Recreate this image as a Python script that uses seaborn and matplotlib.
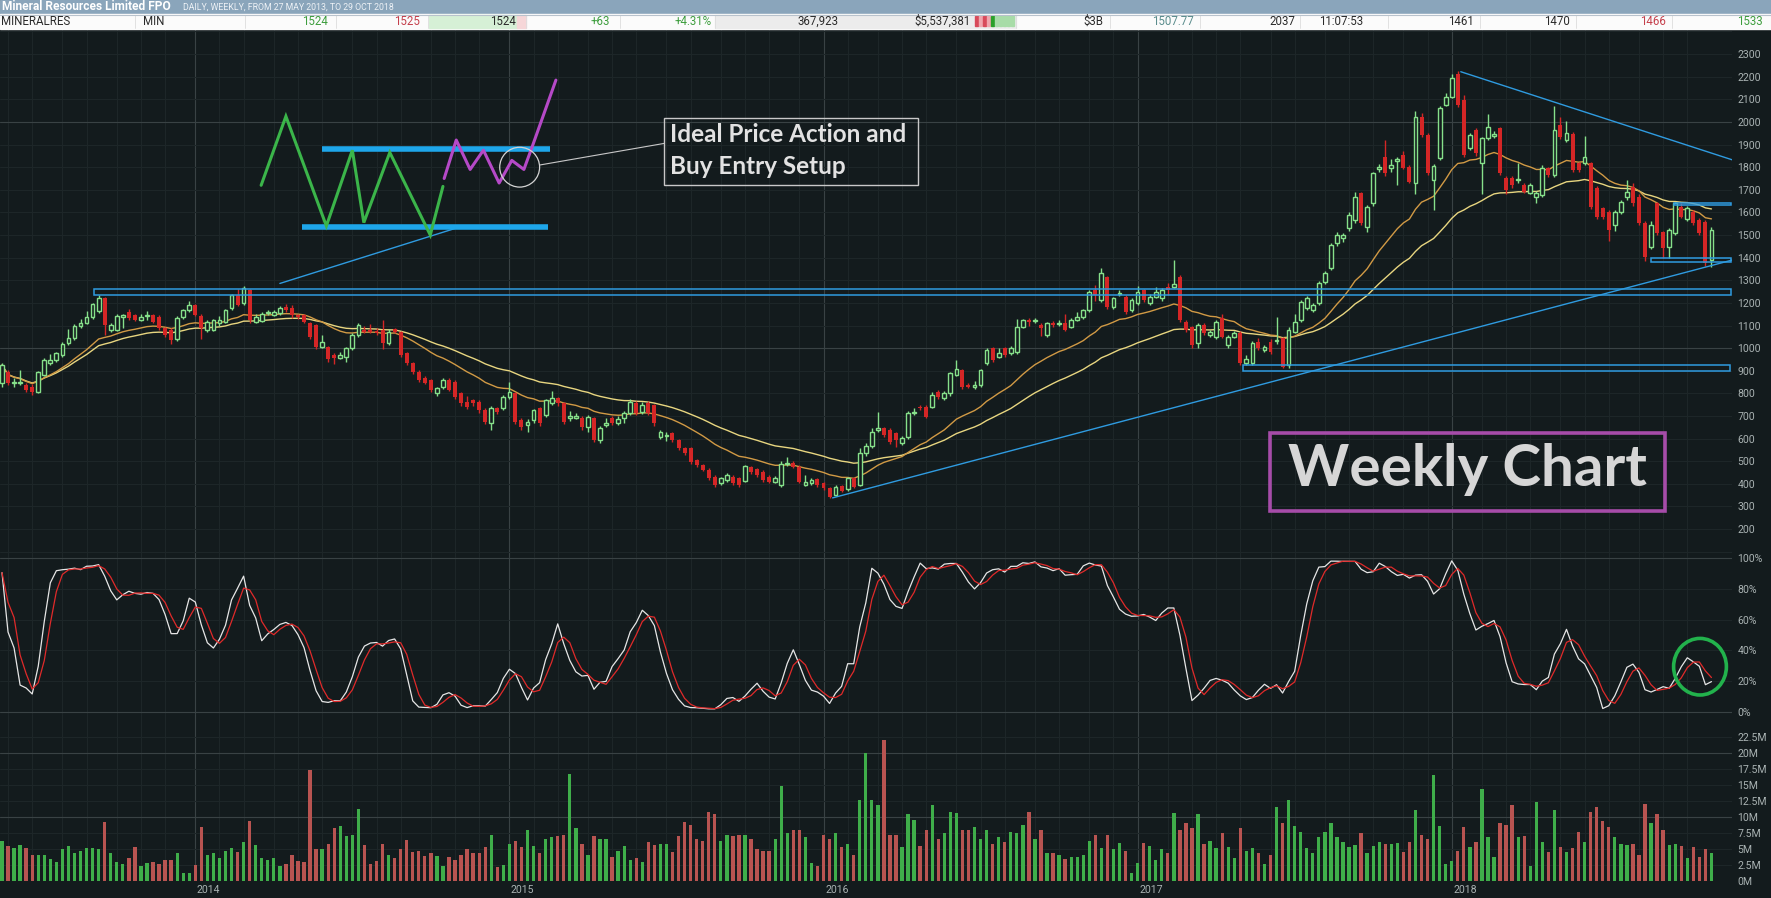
import numpy as np
import pandas as pd
import matplotlib
matplotlib.use("Agg")
import matplotlib.pyplot as plt
import matplotlib.transforms as mtrans
from matplotlib.patches import Rectangle, Ellipse
import seaborn as sns

# ---------------------------------------------------------------- data
start_date = "2013-05-27"   # weekly bars, 27 May 2013 .. 29 Oct 2018

opens = [
    845, 896, 845, 845, 837, 830, 808, 881, 933, 947,
    970, 1021, 1043, 1098, 1113, 1139, 1164, 1220, 1080, 1080,
    1139, 1161, 1146, 1124, 1140, 1146, 1139, 1087, 1080, 1040,
    1136, 1168, 1191, 1142, 1080, 1080, 1110, 1117, 1176, 1235,
    1198, 1257, 1117, 1121, 1155, 1146, 1154, 1183, 1176, 1146,
    1146, 1110, 1102, 1006, 1006, 970, 955, 962, 999, 1058,
    1080, 1080, 1077, 1080, 1021, 1083, 1073, 977, 933, 896,
    866, 859, 800, 830, 859, 852, 800, 763, 770, 763,
    726, 667, 734, 734, 782, 800, 682, 660, 682, 734,
    704, 756, 778, 756, 690, 692, 690, 653, 690, 594,
    660, 690, 667, 690, 712, 756, 719, 756, 748, 608,
    612, 623, 594, 557, 557, 505, 483, 461, 431, 402,
    417, 431, 424, 414, 476, 464, 454, 431, 409, 395,
    487, 493, 476, 395, 402, 420, 405, 380, 350, 390,
    376, 424, 395, 535, 567, 640, 645, 638, 623, 579,
    608, 712, 741, 741, 741, 807, 778, 800, 881, 903,
    837, 830, 837, 933, 999, 962, 999, 977, 984, 1095,
    1124, 1119, 1102, 1058, 1110, 1108, 1110, 1095, 1124, 1139,
    1168, 1257, 1213, 1316, 1183, 1238, 1227, 1168, 1198, 1257,
    1198, 1227, 1220, 1272, 1272, 1316, 1117, 1095, 1021, 1102,
    1058, 1051, 1132, 1014, 1051, 1068, 933, 933, 1029, 992,
    1029, 1030, 1043, 925, 1073, 1124, 1176, 1168, 1198, 1294,
    1353, 1463, 1485, 1530, 1567, 1684, 1537, 1640, 1790, 1847,
    1795, 1829, 1854, 1802, 1729, 2023, 1942, 1743, 1839, 2075,
    2112, 2212, 2097, 1883, 1964, 1817, 1928, 1938, 1972, 1751,
    1751, 1744, 1721, 1684, 1670, 1677, 1795, 1765, 1987, 1920,
    1947, 1817, 1817, 1817, 1707, 1618, 1603, 1544, 1603, 1670,
    1714, 1670, 1552, 1449, 1640, 1515, 1449, 1508, 1626, 1570,
    1603, 1566, 1559, 1390,
]
closes = [
    925, 844, 852, 849, 815, 808, 896, 947, 947, 977,
    1018, 1043, 1098, 1110, 1136, 1193, 1220, 1102, 1102, 1142,
    1146, 1132, 1124, 1139, 1146, 1117, 1087, 1058, 1036, 1135,
    1168, 1191, 1146, 1087, 1117, 1124, 1124, 1168, 1235, 1191,
    1264, 1124, 1139, 1151, 1158, 1161, 1176, 1168, 1146, 1136,
    1117, 1051, 1006, 1028, 950, 955, 970, 999, 1058, 1102,
    1073, 1073, 1065, 1021, 1073, 1073, 970, 933, 896, 859,
    847, 815, 822, 859, 815, 785, 756, 741, 756, 726,
    675, 734, 719, 785, 807, 675, 653, 675, 726, 667,
    771, 778, 756, 675, 700, 700, 653, 697, 594, 645,
    667, 667, 687, 712, 763, 712, 748, 712, 667, 630,
    616, 594, 557, 535, 498, 483, 461, 424, 395, 424,
    439, 402, 395, 479, 454, 439, 417, 409, 424, 487,
    493, 476, 409, 409, 417, 395, 380, 343, 387, 370,
    424, 387, 538, 567, 630, 645, 616, 586, 594, 601,
    712, 719, 734, 697, 793, 785, 800, 888, 910, 830,
    830, 837, 903, 992, 947, 977, 970, 999, 1095, 1124,
    1117, 1121, 1087, 1110, 1102, 1110, 1080, 1124, 1139, 1168,
    1250, 1235, 1331, 1183, 1220, 1242, 1161, 1213, 1250, 1213,
    1227, 1250, 1257, 1257, 1283, 1124, 1080, 1014, 1102, 1065,
    1073, 1117, 1051, 1051, 1065, 933, 952, 1021, 999, 1006,
    984, 1032, 918, 1080, 1117, 1205, 1220, 1191, 1286, 1331,
    1456, 1500, 1500, 1589, 1670, 1552, 1626, 1773, 1802, 1773,
    1810, 1835, 1795, 1736, 2023, 1942, 1773, 1805, 2060, 2109,
    2193, 2075, 1854, 1942, 1861, 1928, 1979, 1947, 1773, 1699,
    1721, 1746, 1692, 1721, 1684, 1795, 1765, 1964, 1935, 1950,
    1788, 1788, 1847, 1626, 1581, 1581, 1522, 1603, 1648, 1692,
    1640, 1552, 1404, 1544, 1508, 1441, 1522, 1640, 1581, 1618,
    1552, 1508, 1375, 1524,
]
highs = [
    935, 905, 870, 905, 845, 840, 900, 955, 975, 985,
    1025, 1085, 1105, 1130, 1165, 1200, 1235, 1225, 1110, 1150,
    1150, 1175, 1150, 1150, 1165, 1150, 1145, 1095, 1090, 1140,
    1175, 1210, 1195, 1150, 1125, 1130, 1140, 1175, 1240, 1260,
    1275, 1262, 1150, 1160, 1170, 1170, 1185, 1195, 1190, 1150,
    1150, 1115, 1108, 1060, 1010, 980, 985, 1005, 1065, 1110,
    1100, 1105, 1090, 1125, 1085, 1090, 1078, 985, 940, 905,
    875, 865, 830, 870, 870, 860, 805, 790, 775, 770,
    735, 745, 740, 795, 850, 805, 690, 685, 730, 740,
    775, 810, 785, 760, 720, 715, 700, 705, 695, 655,
    690, 700, 700, 720, 775, 765, 760, 765, 752, 640,
    630, 630, 600, 565, 562, 510, 490, 468, 440, 430,
    450, 440, 430, 485, 480, 472, 460, 438, 435, 500,
    520, 500, 482, 440, 425, 425, 410, 385, 395, 395,
    430, 430, 560, 580, 645, 719, 650, 645, 630, 610,
    720, 735, 750, 748, 805, 815, 810, 895, 948, 910,
    845, 855, 910, 1000, 1005, 1000, 1005, 1008, 1130, 1130,
    1135, 1135, 1110, 1115, 1120, 1125, 1150, 1135, 1160, 1175,
    1258, 1280, 1353, 1320, 1228, 1255, 1235, 1220, 1275, 1262,
    1240, 1270, 1265, 1290, 1390, 1325, 1125, 1100, 1110, 1110,
    1080, 1125, 1150, 1060, 1075, 1075, 970, 1030, 1045, 1015,
    1040, 1139, 1050, 1095, 1150, 1215, 1230, 1200, 1295, 1340,
    1465, 1515, 1510, 1600, 1690, 1690, 1635, 1780, 1812, 1920,
    1835, 1845, 1870, 1810, 2050, 2040, 1950, 1815, 2070, 2130,
    2210, 2225, 2120, 1950, 1975, 1935, 2035, 1960, 1978, 1760,
    1760, 1820, 1730, 1730, 1695, 1810, 1800, 2070, 2020, 2005,
    1955, 1825, 1940, 1825, 1715, 1625, 1610, 1610, 1655, 1745,
    1730, 1680, 1560, 1560, 1645, 1520, 1530, 1645, 1640, 1630,
    1610, 1575, 1565, 1535,
]
lows = [
    830, 835, 830, 838, 805, 795, 800, 875, 925, 940,
    960, 1015, 1035, 1090, 1105, 1130, 1155, 1058, 1070, 1075,
    1090, 1125, 1118, 1118, 1125, 1110, 1080, 1050, 1020, 1030,
    1130, 1160, 1140, 1040, 1070, 1075, 1100, 1110, 1170, 1185,
    1190, 1110, 1110, 1115, 1145, 1140, 1148, 1160, 1135, 1128,
    1110, 1040, 995, 1000, 940, 930, 950, 940, 990, 1050,
    1065, 1065, 1060, 995, 1015, 1065, 960, 925, 885, 850,
    840, 805, 790, 820, 810, 775, 745, 730, 745, 715,
    665, 640, 710, 725, 775, 665, 640, 630, 670, 655,
    695, 750, 745, 665, 680, 685, 640, 630, 585, 580,
    650, 660, 660, 670, 705, 705, 710, 705, 655, 600,
    590, 585, 550, 528, 490, 475, 455, 418, 385, 395,
    410, 395, 388, 410, 445, 432, 410, 402, 402, 385,
    480, 468, 402, 390, 395, 388, 372, 336, 345, 365,
    370, 380, 390, 525, 560, 630, 605, 575, 565, 570,
    600, 705, 725, 690, 735, 775, 770, 790, 875, 820,
    822, 818, 830, 925, 940, 955, 962, 970, 975, 1088,
    1100, 1110, 1055, 1050, 1095, 1100, 1075, 1090, 1118, 1130,
    1160, 1210, 1205, 1175, 1175, 1230, 1150, 1160, 1190, 1205,
    1190, 1220, 1210, 1235, 1265, 1115, 1070, 1000, 1000, 1058,
    1050, 1040, 1045, 1000, 1045, 925, 925, 925, 990, 985,
    975, 1020, 912, 912, 1065, 1115, 1168, 1160, 1190, 1285,
    1345, 1450, 1470, 1520, 1555, 1545, 1515, 1630, 1780, 1760,
    1780, 1720, 1790, 1730, 1680, 1935, 1765, 1610, 1830, 2070,
    2105, 2065, 1845, 1875, 1850, 1680, 1920, 1930, 1765, 1680,
    1710, 1730, 1685, 1680, 1640, 1670, 1755, 1755, 1925, 1910,
    1780, 1780, 1810, 1615, 1570, 1570, 1475, 1520, 1595, 1655,
    1630, 1545, 1385, 1440, 1500, 1400, 1400, 1500, 1575, 1560,
    1545, 1500, 1365, 1360,
]
volume_m = [   # weekly volume, millions of shares
    6.3, 5.4, 5.05, 5.6, 5.05, 4.1, 4.1, 4.0, 3.4, 3.0,
    4.9, 5.5, 4.4, 4.7, 5.05, 5.05, 4.9, 9.2, 4.4, 3.0,
    2.55, 3.5, 5.3, 2.3, 2.7, 2.9, 2.55, 3.3, 3.2, 4.3,
    1.15, 1.15, 2.45, 8.4, 4.1, 4.4, 3.5, 4.7, 5.05, 4.5,
    6.0, 9.3, 5.6, 3.5, 3.2, 3.5, 2.3, 2.65, 4.0, 3.1,
    2.9, 17.3, 4.9, 4.9, 5.7, 8.2, 8.65, 7.0, 7.1, 11.3,
    5.6, 2.55, 3.1, 5.8, 4.0, 3.5, 4.9, 6.35, 4.5, 4.7,
    3.8, 4.3, 3.85, 2.3, 3.7, 3.3, 4.0, 4.9, 4.3, 4.4,
    5.3, 7.1, 2.1, 2.45, 5.8, 6.3, 5.3, 8.0, 5.4, 4.3,
    6.5, 6.8, 7.0, 7.1, 16.8, 8.3, 5.8, 4.1, 7.0, 6.5,
    6.5, 3.7, 4.7, 5.4, 3.3, 3.5, 2.9, 6.0, 5.6, 5.8,
    5.8, 4.5, 7.0, 9.2, 8.8, 6.6, 6.3, 10.7, 10.5, 6.3,
    7.2, 7.0, 7.2, 7.2, 6.5, 4.9, 4.7, 4.6, 6.5, 14.8,
    7.5, 8.0, 7.9, 6.8, 2.8, 2.3, 7.2, 6.5, 7.5, 5.3,
    5.8, 4.0, 12.6, 20.0, 12.7, 11.9, 22.0,
    7.1, 7.2, 5.3, 10.4, 9.5, 5.4, 7.9, 11.9, 6.5, 7.5,
    10.8, 10.6, 7.9, 8.0, 8.4, 6.5, 7.9, 5.7, 6.9, 6.1,
    7.7, 7.5, 8.8, 10.8, 6.5, 7.9, 4.3, 4.3, 4.1, 3.4,
    3.7, 3.7, 4.0, 6.3, 7.2, 5.05, 7.1, 4.9, 5.9, 4.7,
    1.15, 2.8, 5.9, 5.4, 3.2, 4.9, 4.3, 10.6, 8.0, 9.1,
    8.2, 10.5, 5.8, 6.3, 5.05, 7.4, 5.3, 3.5, 8.2, 4.7,
    5.05, 4.3, 2.65, 4.0, 11.5, 9.0, 12.7, 8.65, 7.7, 5.05,
    4.3, 6.8, 7.7, 9.0, 6.8, 6.0, 5.3, 5.6, 7.5, 4.3,
    5.4, 6.1, 5.7, 5.7, 5.9, 4.5, 6.1, 11.1, 7.1, 6.5,
    16.5, 8.65, 2.55, 3.1, 4.7, 8.4, 5.3, 6.0, 14.3, 6.9,
    3.7, 9.0, 8.8, 11.8, 6.9, 7.0, 2.3, 12.4, 6.1, 4.5,
    11.1, 5.3, 4.5, 5.05, 7.7, 6.1, 10.7, 11.6, 9.3, 8.4,
    6.8, 5.7, 5.6, 5.7, 4.1, 12.1, 9.0, 10.4, 8.0, 5.6,
    5.7, 5.4, 3.5, 5.3, 3.7, 4.9, 4.3,
]

price_ticks = list(range(200, 2400, 100))
stoch_ticks = [0, 20, 40, 60, 80, 100]
volume_ticks = [0, 2.5, 5, 7.5, 10, 12.5, 15, 17.5, 20, 22.5]

title_main = "Mineral Resources Limited FPO"
title_sub = "DAILY, WEEKLY, FROM 27 MAY 2013, TO 29 OCT 2018"
quote_cells = [  # (text, right-edge px, colour key)
    ("1524", 328, "g"), ("1525", 420, "r"), ("1524", 516, "k"), ("+63", 610, "g"),
    ("+4.31%", 712, "g"), ("367,923", 839, "k"), ("$5,537,381", 971, "k"),
    ("$3B", 1103, "k"), ("1507.77", 1194, "t"), ("2037", 1295, "k"),
    ("11:07:53", 1363, "k"), ("1461", 1474, "k"), ("1470", 1570, "k"),
    ("1466", 1666, "r"), ("1533", 1763, "g"),
]

# ---------------------------------------------------------------- style
BG = "#131b1d"
GRID_F = "#1d2628"
GRID_B = "#394244"
TICK = "#a9b2b2"
UP = "#86e08a"
DOWN = "#d42626"
VUP = "#3fae4a"
VDOWN = "#b85451"
MA_FAST = "#d19a45"
MA_SLOW = "#e8d680"
BLUE = "#2f9be0"
NARROW = ["Roboto", "DejaVu Sans"]

sns.set_theme(style="dark", rc={"axes.facecolor": BG, "figure.facecolor": BG,
                                "axes.edgecolor": BG, "axes.grid": False})
plt.rcParams["font.family"] = NARROW

W, H = 1771, 898
fig = plt.figure(figsize=(W / 100, H / 100), dpi=100, facecolor=BG)


def fx(px):
    return px / W


def fy(py):
    return 1 - py / H


n = len(closes)
idx = np.arange(n)
dates = pd.date_range(start_date, periods=n, freq="7D")
df = pd.DataFrame({"i": idx, "open": opens, "high": highs, "low": lows,
                   "close": closes, "vol": volume_m})
df["ma_fast"] = df["close"].ewm(span=20).mean()
df["ma_slow"] = df["close"].ewm(span=40).mean()
lo_n = df["low"].rolling(21, min_periods=1).min()
hi_n = df["high"].rolling(21, min_periods=1).max()
fast_k = 100 * (df["close"] - lo_n) / (hi_n - lo_n)
df["k"] = fast_k.rolling(3, min_periods=1).mean()
df["d"] = df["k"].rolling(3, min_periods=1).mean()

RIGHT = 1732
ax_p = fig.add_axes([0, fy(557), fx(RIGHT), (557 - 29) / H])
ax_s = fig.add_axes([0, fy(714), fx(RIGHT), (714 - 557) / H], sharex=ax_p)
ax_v = fig.add_axes([0, fy(881), fx(RIGHT), (881 - 714) / H], sharex=ax_p)
axes = [ax_p, ax_s, ax_v]

x0, x1 = -0.33, 286.4
ax_p.set_xlim(x0, x1)
ax_p.set_ylim(76.7, 2410.9)
ax_s.set_ylim(-1.3, 100.65)
ax_v.set_ylim(-0.05, 26.14)

month_starts = [i for i in range(1, n) if dates[i].month != dates[i - 1].month]
year_starts = [i for i in month_starts if dates[i].month == 1]

for ax in axes:
    ax.set_facecolor(BG)
    ax.grid(False)
    for s in ax.spines.values():
        s.set_visible(False)
    for i in month_starts:
        ax.axvline(i, color=GRID_B if i in year_starts else GRID_F, lw=0.8, zorder=0)
    ax.tick_params(axis="x", bottom=False, labelbottom=False)
    ax.yaxis.tick_right()
    ax.tick_params(axis="y", length=0, pad=4, labelsize=7.6, labelcolor=TICK)

for p in range(100, 2500, 100):
    ax_p.axhline(p, color=GRID_B if p in (1000, 2000) else GRID_F, lw=0.8, zorder=0)
for s in stoch_ticks:
    ax_s.axhline(s, color=GRID_B if s in (0, 100) else GRID_F, lw=0.8, zorder=0)
for v in volume_ticks:
    ax_v.axhline(v, color=GRID_B if v in (10, 20) else GRID_F, lw=0.8, zorder=0)

ax_p.set_yticks(price_ticks)
ax_p.set_yticklabels([str(t) for t in price_ticks])
ax_s.set_yticks(stoch_ticks)
ax_s.set_yticklabels([f"{t}%" for t in stoch_ticks])
ax_v.set_yticks(volume_ticks)
ax_v.set_yticklabels([f"{t:g}M" for t in volume_ticks])

# ---------------------------------------------------------------- candles
o = df["open"].to_numpy(float)
c = df["close"].to_numpy(float)
up = c >= o
blo = np.minimum(o, c)
bh = np.maximum(np.abs(c - o), 4)
ax_p.vlines(idx[up], df["low"][up], df["high"][up], color=UP, lw=1, zorder=3)
ax_p.vlines(idx[~up], df["low"][~up], df["high"][~up], color=DOWN, lw=1, zorder=3)
ax_p.bar(idx[up], bh[up], bottom=blo[up], width=0.62, facecolor=BG, edgecolor=UP,
         linewidth=1, zorder=4)
ax_p.bar(idx[~up], bh[~up], bottom=blo[~up], width=0.66, color=DOWN, linewidth=0, zorder=4)

sns.lineplot(x=df["i"], y=df["ma_slow"], ax=ax_p, color=MA_SLOW, lw=1.0, zorder=2,
             legend=False, errorbar=None)
sns.lineplot(x=df["i"], y=df["ma_fast"], ax=ax_p, color=MA_FAST, lw=1.0, zorder=2,
             legend=False, errorbar=None)

# ---------------------------------------------------------------- stochastic
sns.lineplot(x=df["i"], y=df["k"], ax=ax_s, color="#e6e6e6", lw=0.9, legend=False,
             errorbar=None, zorder=3)
sns.lineplot(x=df["i"], y=df["d"], ax=ax_s, color="#e02a2a", lw=0.9, legend=False,
             errorbar=None, zorder=4)

# ---------------------------------------------------------------- volume
ax_v.bar(idx, df["vol"], width=0.55, color=np.where(up, VUP, VDOWN), linewidth=0, zorder=3)

for ax in axes:
    ax.set_xlabel("")
    ax.set_ylabel("")
ax_p.set_xlim(x0, x1)

blend = mtrans.blended_transform_factory(ax_v.transData, ax_v.transAxes)
for i in year_starts:
    ax_v.text(i + 2.2, -0.055, str(dates[i].year), transform=blend, ha="center",
              va="center", fontsize=7.6, color=TICK, clip_on=False)

# ---------------------------------------------------------------- drawn annotations
zones = [(15.3, 286.3, 1233, 1260), (205.4, 286.0, 899, 925),
         (273.0, 286.3, 1382, 1397), (276.8, 286.3, 1633, 1643)]
for a, b, lo, hi in zones:
    ax_p.add_patch(Rectangle((a, lo), b - a, hi - lo, fill=False, edgecolor=BLUE,
                             lw=1.1, zorder=5))
trend_lines = [((137.5, 338), (286.5, 1390)), ((241.5, 2222), (286.5, 1832)),
               ((46.0, 1286), (76.3, 1540))]
for (xa, ya), (xb, yb) in trend_lines:
    ax_p.plot([xa, xb], [ya, yb], color=BLUE, lw=1.0, zorder=5)

zig_x = [42.9, 47.0, 53.7, 58.0, 59.9, 64.2, 70.9, 73.0]
zig_y = [1720, 2025, 1540, 1875, 1555, 1865, 1500, 1715]
ax_p.plot(zig_x, zig_y, color="#3bb54a", lw=2.2, zorder=6, solid_joinstyle="miter")
pur_x = [73.2, 75.2, 77.5, 79.7, 82.3, 84.4, 86.4, 87.9, 91.7]
pur_y = [1750, 1920, 1790, 1875, 1730, 1830, 1790, 1900, 2185]
ax_p.plot(pur_x, pur_y, color="#b549c7", lw=2.2, zorder=6)
ax_p.plot([53.0, 90.7], [1880, 1880], color="#1ea6ea", lw=4, zorder=5,
          solid_capstyle="butt")
ax_p.plot([49.6, 90.4], [1535, 1535], color="#1ea6ea", lw=4, zorder=5,
          solid_capstyle="butt")
ax_p.add_patch(Ellipse((85.7, 1800), 6.6, 176, fill=False, edgecolor="#d4d4d4", lw=0.9,
                       zorder=7))
ax_p.plot([89.1, 109.6], [1810, 1905], color="#c8c8c8", lw=0.8, zorder=7)

# text boxes (figure pixels)
fig.add_artist(Rectangle((fx(664), fy(185)), (918 - 664) / W, (185 - 117.5) / H,
                         transform=fig.transFigure, fill=False, edgecolor="#c8c8c8",
                         lw=1.0, zorder=10))
fig.text(fx(670), fy(135), "Ideal Price Action and", fontsize=17.5, fontweight="bold",
         color="#e2e2e2", ha="left", va="center", family=["Lato", "DejaVu Sans"], zorder=11)
fig.text(fx(670), fy(167), "Buy Entry Setup", fontsize=17.5, fontweight="bold",
         color="#e2e2e2", ha="left", va="center", family=["Lato", "DejaVu Sans"], zorder=11)

fig.add_artist(Rectangle((fx(1270), fy(510.5)), (1665 - 1270) / W, (510.5 - 432.6) / H,
                         transform=fig.transFigure, fill=False, edgecolor="#a64ca9",
                         lw=2.6, zorder=10))
fig.text(fx(1467), fy(470), "Weekly Chart", fontsize=42, fontweight="bold",
         color="#d6d6d6", ha="center", va="center", family=["Lato", "DejaVu Sans"],
         zorder=11)

fig.add_artist(Ellipse((fx(1700), fy(666.7)), 52.8 / W, 56.6 / H,
                       transform=fig.transFigure, fill=False, edgecolor="#22b24c",
                       lw=2.6, zorder=10))

# ---------------------------------------------------------------- header strip
fig.add_artist(Rectangle((0, fy(14)), 1, 14 / H, transform=fig.transFigure,
                         color="#8aa5bb", zorder=20))
fig.add_artist(Rectangle((0, fy(28.5)), 1, 14.5 / H, transform=fig.transFigure,
                         color="#fbfbfb", zorder=20))
fig.add_artist(Rectangle((fx(429), fy(28)), 88 / W, 13.5 / H, transform=fig.transFigure,
                         color="#d6f0d6", zorder=21))
fig.add_artist(Rectangle((fx(517), fy(28)), 9 / W, 13.5 / H, transform=fig.transFigure,
                         color="#f6d6d8", zorder=21))
fig.add_artist(Rectangle((fx(715), fy(28)), 301 / W, 13.5 / H, transform=fig.transFigure,
                         color="#ececec", zorder=21))
for k, col in enumerate(["#d84a5a", "#f0a6ae", "#d84a5a", "#f0a6ae", "#2aa02a",
                         "#a8dca8", "#a8dca8", "#a8dca8", "#a8dca8", "#a8dca8"]):
    fig.add_artist(Rectangle((fx(975 + 4 * k), fy(26)), 3 / W, 10 / H,
                             transform=fig.transFigure, color=col, zorder=22))
for sep in [135, 245, 336, 428, 526, 620, 715, 1016, 1110, 1200, 1300, 1388, 1480,
            1576, 1672]:
    fig.add_artist(plt.Line2D([fx(sep), fx(sep)], [fy(28), fy(15)], transform=fig.transFigure,
                              color="#dddddd", lw=0.6, zorder=22))
fig.add_artist(plt.Line2D([0, 1], [fy(14.5), fy(14.5)], transform=fig.transFigure,
                          color="#b8c2cc", lw=0.8, zorder=22))

fig.text(fx(2), fy(7), title_main, fontsize=8.6, fontweight="bold", color="white",
         ha="left", va="center", family=NARROW, zorder=23)
fig.text(fx(183), fy(7.5), title_sub, fontsize=6.3, color="#eef2f6", ha="left",
         va="center", family=NARROW, zorder=23)
QCOL = {"g": "#3e9e3e", "r": "#c5404c", "k": "#2a2a2a", "t": "#5a8c8c"}
fig.text(fx(1), fy(21.5), "MINERALRES", fontsize=8.3, color="#2a2a2a", ha="left",
         va="center", family=NARROW, zorder=23)
fig.text(fx(143), fy(21.5), "MIN", fontsize=8.3, color="#2a2a2a", ha="left",
         va="center", family=NARROW, zorder=23)
for txt, right, ck in quote_cells:
    fig.text(fx(right), fy(21.5), txt, fontsize=8.3, color=QCOL[ck], ha="right",
             va="center", family=NARROW, zorder=23)

fig.savefig("out.png", dpi=100, facecolor=BG)
